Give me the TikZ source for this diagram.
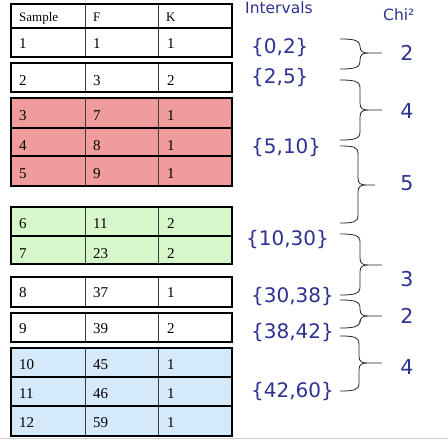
\documentclass[tikz,border=0pt]{standalone}
\usepackage{fontspec}
\setmainfont{Liberation Serif}
\newfontfamily\ivfont{DejaVu Sans}
\definecolor{redfill}{RGB}{241,156,156}
\definecolor{greenfill}{RGB}{213,247,202}
\definecolor{bluefill}{RGB}{212,233,250}
\definecolor{navy}{RGB}{46,49,146}
\definecolor{colline}{RGB}{60,60,60}
\newcommand\chibrace[6]{% name, top, bottom, mid, vertical x, tip x
  \coordinate (#1t) at (340,#2);
  \coordinate (#1b) at (340,#3);
  \coordinate (#1m) at (#6,#4);
  \draw[bracestyle] (#1t) .. controls (354,#2) and (#5,#2+1) .. (#5,#2+8)
    -- (#5,#4-7) .. controls (#5,#4-1) and (#5+3,#4) .. (#5+9,#4) -- (#1m)
    (#5+9,#4) .. controls (#5+3,#4) and (#5,#4+1) .. (#5,#4+7)
    -- (#5,#3-8) .. controls (#5,#3-1) and (354,#3) .. (#1b);
}
\begin{document}
\begin{tikzpicture}[x=1pt,y=-1pt,
  cell/.style={anchor=base west,inner sep=0pt,font=\fontsize{15}{15}\selectfont},
  hdr/.style={anchor=base west,inner sep=0pt,font=\fontsize{13}{13}\selectfont},
  ival/.style={anchor=west,inner sep=0pt,text=navy,font=\ivfont\fontsize{20}{20}\selectfont},
  chival/.style={anchor=center,inner sep=0pt,text=navy,font=\ivfont\fontsize{20.5}{20.5}\selectfont},
  title/.style={anchor=base west,inner sep=0pt,text=navy,font=\ivfont\fontsize{15.5}{15.5}\selectfont},
  bracestyle/.style={draw=black!85,line width=0.8pt},
  outer/.style={draw=black,line width=2.2pt},
  sep/.style={draw=black,line width=2.2pt},
  colsep/.style={draw=colline,line width=1pt}]
\useasboundingbox (0,0) rectangle (448,440);
\fill[white] (0,0) rectangle (448,440);
\draw[draw=black!18,line width=1.2pt] (0,438.6) -- (448,438.6);
% table groups
\foreach \t/\b/\f in {4/57/white,63/92/white,98/186/redfill,207/264/greenfill,277/307/white,313/342/white,348/436/bluefill}{
  \fill[\f] (11,\t) rectangle (232,\b);
  \draw[colsep] (85,\t) -- (85,\b) (158,\t) -- (158,\b);
}
\foreach \y in {28,128,156,236,377,406}{
  \draw[sep] (11,\y) -- (232,\y);
}
\foreach \t/\b in {4/57,63/92,98/186,207/264,277/307,313/342,348/436}{
  \draw[outer] (11,\t) rectangle (232,\b);
}
% header
\node[hdr] (hs) at (19,21) {Sample};
\node[hdr] (hf) at (93,21) {F};
\node[hdr] (hk) at (166,21) {K};
% rows
\foreach \n/\y/\s/\f/\k in {1/48/1/1/1,2/85/2/3/2,3/120.5/3/7/1,4/150/4/8/1,5/178/5/9/1,6/228.5/6/11/2,7/258/7/23/2,8/297.5/8/37/1,9/333/9/39/2,10/369.5/10/45/1,11/398/11/46/1,12/427/12/59/1}{
  \node[cell] (s\n) at (19,\y) {\s};
  \node[cell] (f\n) at (93,\y) {\f};
  \node[cell] (k\n) at (167,\y) {\k};
}
% titles
\node[title] (intervals) at (245,13) {Intervals};
\node[title] (chi) at (383,20) {Chi²};
% intervals
\node[ival] (i1) at (251,48) {\{0,2\}};
\node[ival] (i2) at (251,78) {\{2,5\}};
\node[ival] (i3) at (251,148) {\{5,10\}};
\node[ival] (i4) at (246,240) {\{10,30\}};
\node[ival] (i5) at (251,297) {\{30,38\}};
\node[ival] (i6) at (251,333) {\{38,42\}};
\node[ival] (i7) at (251,392) {\{42,60\}};
% braces
\chibrace{ba}{39}{69}{53}{360}{382}
\chibrace{bb}{80}{140}{110}{360}{382}
\chibrace{bc}{146}{223}{185}{358}{375}
\chibrace{bd}{234}{295}{265}{360}{382}
\chibrace{be}{300}{328}{316}{360}{382}
\chibrace{bf}{336}{391}{363}{359}{382}
% chi values
\node[chival] (c1) at (407,52.5) {2};
\node[chival] (c2) at (407,111) {4};
\node[chival] (c3) at (407,183.5) {5};
\node[chival] (c4) at (407,279.5) {3};
\node[chival] (c5) at (407,315.5) {2};
\node[chival] (c6) at (407,367) {4};
\end{tikzpicture}
\end{document}
